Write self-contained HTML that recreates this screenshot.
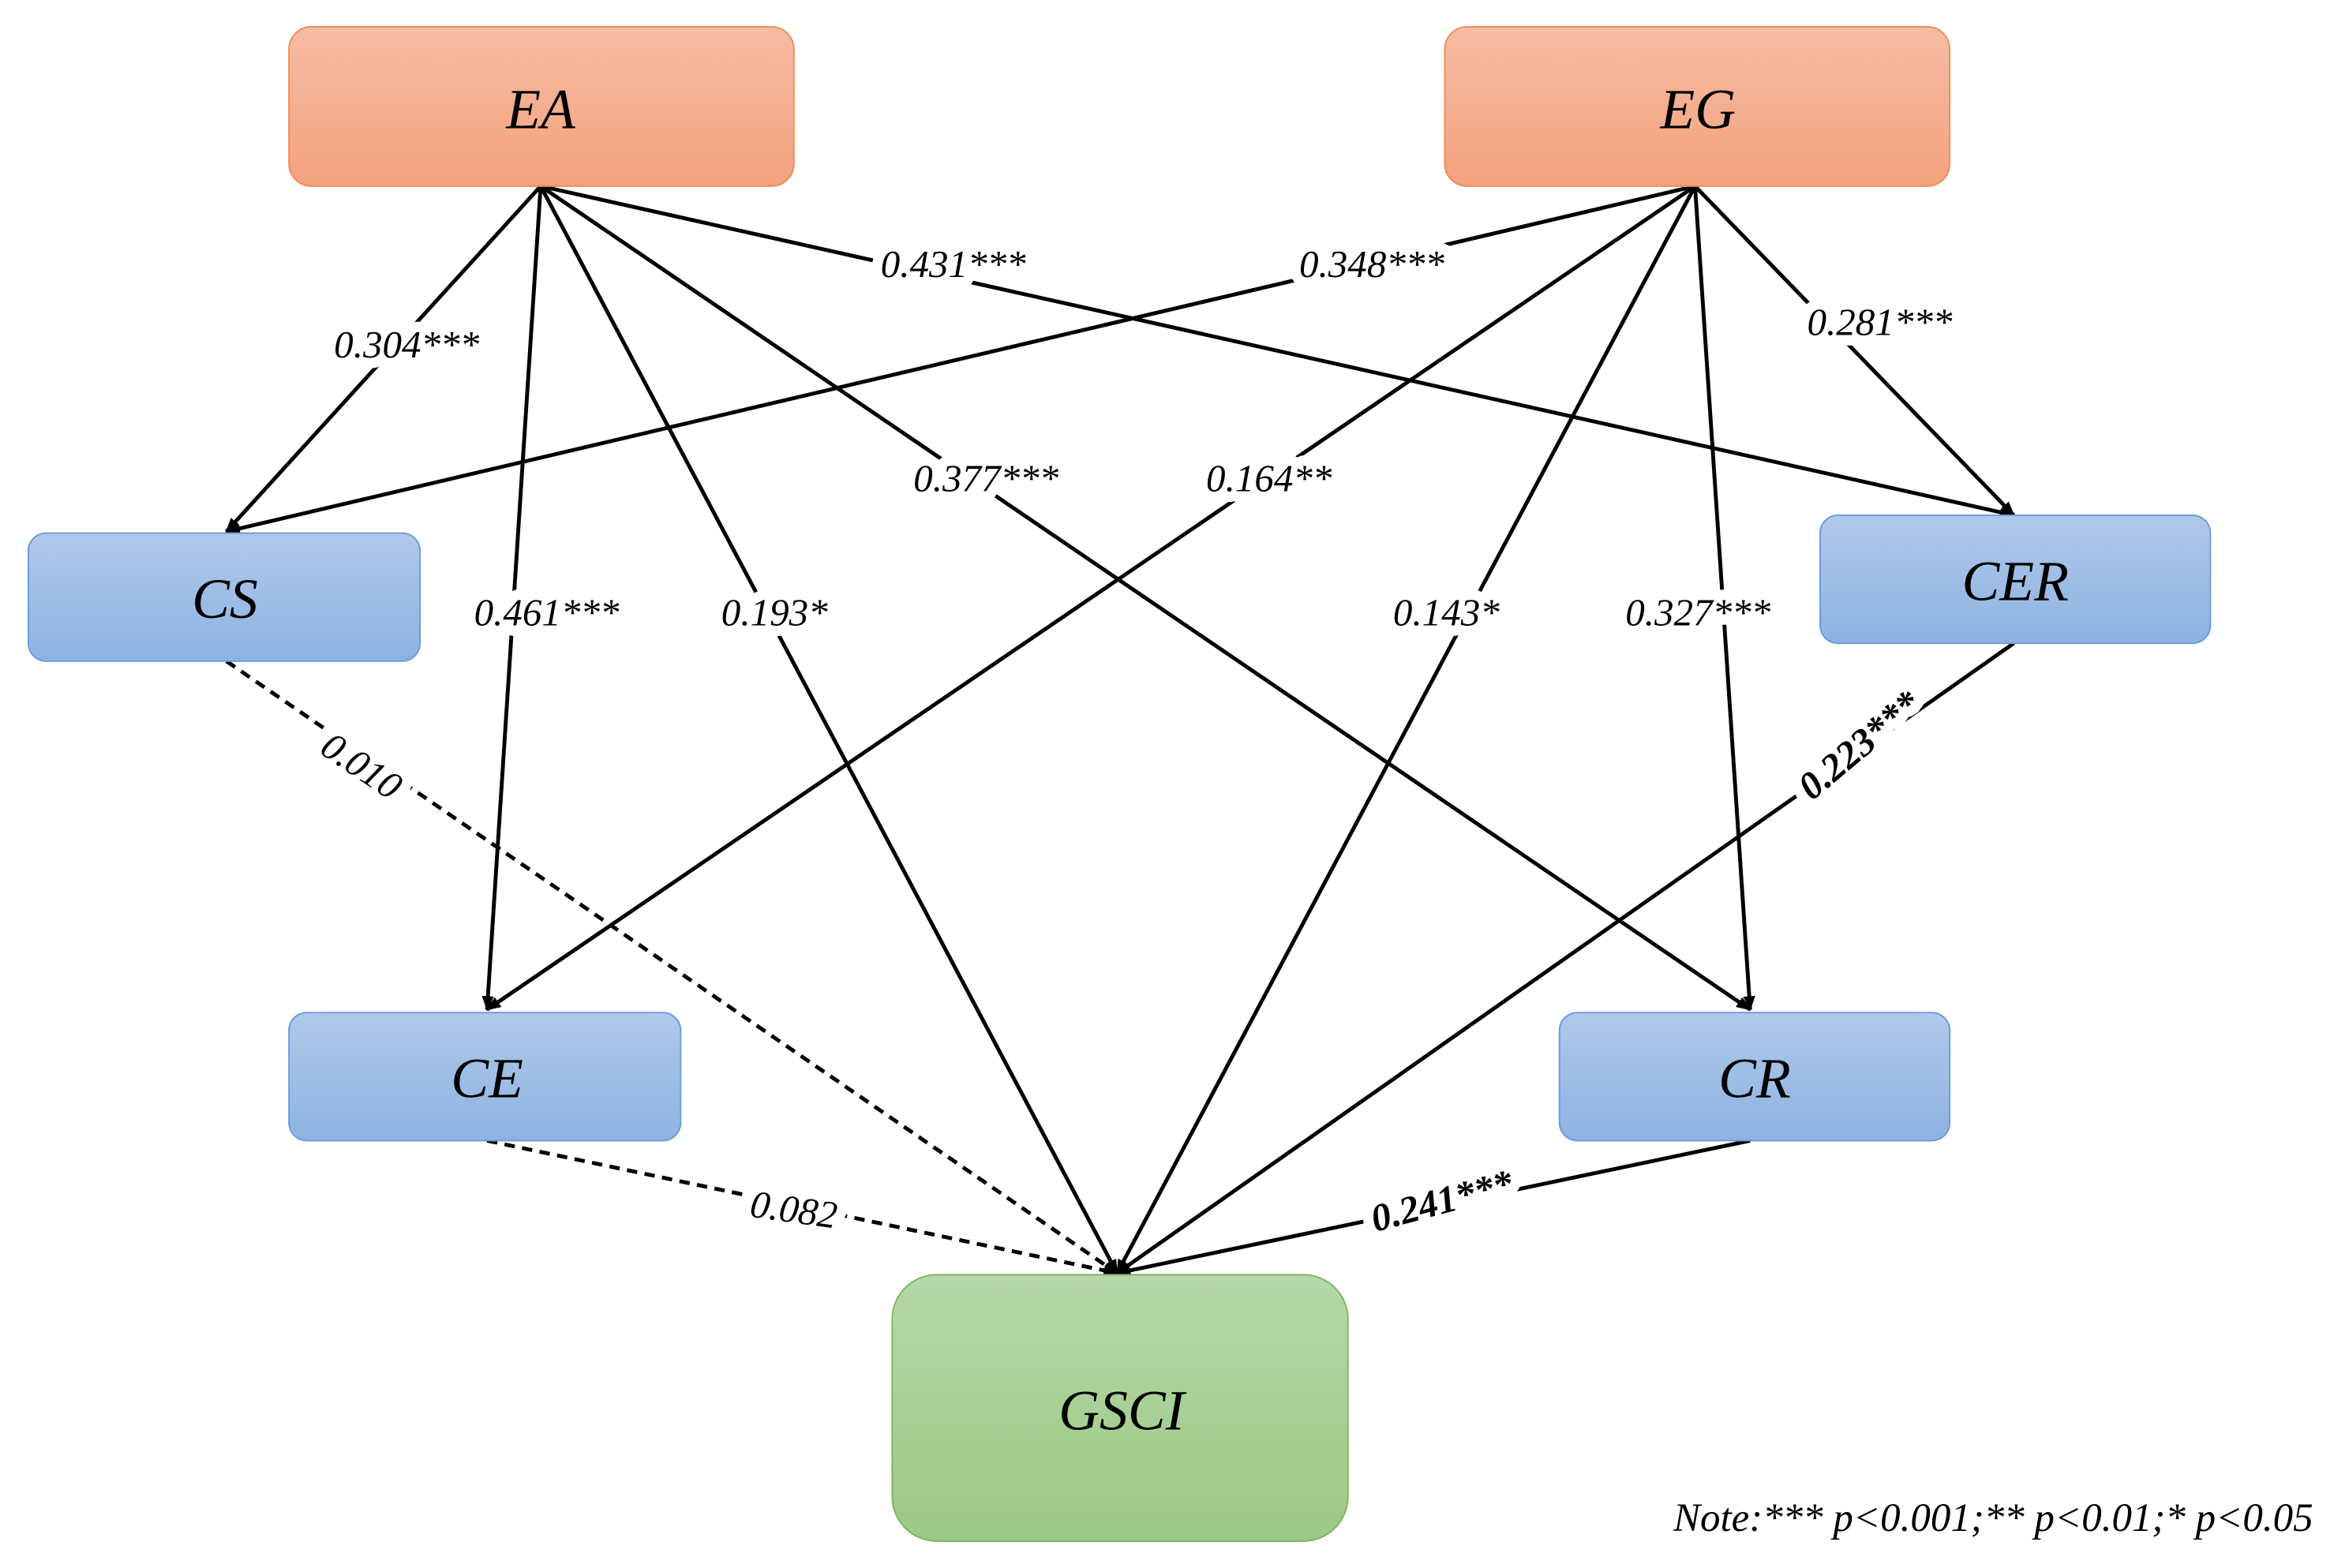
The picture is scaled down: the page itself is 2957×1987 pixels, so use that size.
<!DOCTYPE html>
<html><head><style>html,body{margin:0;padding:0;background:#fff}svg{display:block}</style></head><body>
<svg width="2957" height="1987" viewBox="0 0 1567 1053" preserveAspectRatio="none" xmlns="http://www.w3.org/2000/svg">
<defs>
<linearGradient id="o" x1="0" y1="0" x2="0" y2="1"><stop offset="0" stop-color="#f6bca4"/><stop offset="1" stop-color="#f3a27d"/></linearGradient>
<linearGradient id="b" x1="0" y1="0" x2="0" y2="1"><stop offset="0" stop-color="#afc9ea"/><stop offset="1" stop-color="#8db2e2"/></linearGradient>
<linearGradient id="g" x1="0" y1="0" x2="0" y2="1"><stop offset="0" stop-color="#b6d7a8"/><stop offset="1" stop-color="#9cc985"/></linearGradient>
<marker id="a" markerWidth="10" markerHeight="8" refX="9" refY="4" orient="auto" markerUnits="userSpaceOnUse"><path d="M0,0 L10,4 L0,8 z" fill="#000"/></marker>
</defs>
<g fill="none" stroke="#000" stroke-width="2.6" marker-end="url(#a)">
<line x1="363" y1="125" x2="152" y2="357"/>
<line x1="363" y1="125" x2="327" y2="678"/>
<line x1="363" y1="125" x2="750" y2="855"/>
<line x1="363" y1="125" x2="1175" y2="678"/>
<line x1="363" y1="125" x2="1352" y2="346"/>
<line x1="1138" y1="125" x2="152" y2="357"/>
<line x1="1138" y1="125" x2="327" y2="678"/>
<line x1="1138" y1="125" x2="750" y2="855"/>
<line x1="1138" y1="125" x2="1175" y2="678"/>
<line x1="1138" y1="125" x2="1352" y2="346"/>
<line x1="1352" y1="432" x2="750" y2="855"/>
<line x1="1175" y1="766" x2="750" y2="855"/>
<line x1="152" y1="444" x2="750" y2="855" stroke-dasharray="7,5"/>
<line x1="327" y1="766" x2="750" y2="855" stroke-dasharray="7,5"/>
</g>
<g stroke-width="1">
<rect x="194" y="18" width="339" height="107" rx="15" fill="url(#o)" stroke="#f08b5a"/>
<rect x="970" y="18" width="339" height="107" rx="15" fill="url(#o)" stroke="#f08b5a"/>
<rect x="19" y="358" width="263" height="86" rx="12" fill="url(#b)" stroke="#6b9bd8"/>
<rect x="1222" y="346" width="262" height="86" rx="12" fill="url(#b)" stroke="#6b9bd8"/>
<rect x="194" y="680" width="263" height="86" rx="12" fill="url(#b)" stroke="#6b9bd8"/>
<rect x="1047" y="680" width="262" height="86" rx="12" fill="url(#b)" stroke="#6b9bd8"/>
<rect x="599" y="856" width="306" height="179" rx="30" fill="url(#g)" stroke="#7fb55f"/>
</g>
<g font-family="Liberation Serif, serif" font-style="italic" font-size="38" text-anchor="middle" fill="#000">
<text x="363" y="86">EA</text>
<text x="1140" y="86">EG</text>
<text x="151" y="415">CS</text>
<text x="1353" y="403">CER</text>
<text x="327" y="737">CE</text>
<text x="1178" y="737">CR</text>
<text x="753" y="960">GSCI</text>
</g>
<g font-family="Liberation Serif, serif" font-style="italic" font-size="26" text-anchor="middle" fill="#000" stroke="#fff" stroke-width="14" paint-order="stroke" stroke-linejoin="round">
<text x="273" y="240">0.304***</text>
<text x="367" y="420">0.461***</text>
<text x="520" y="420">0.193*</text>
<text x="662" y="330">0.377***</text>
<text x="640" y="186">0.431***</text>
<text x="921" y="186">0.348***</text>
<text x="852" y="330">0.164**</text>
<text x="971" y="420">0.143*</text>
<text x="1140" y="420">0.327***</text>
<text x="1262" y="225">0.281***</text>
<text x="533" y="821" transform="rotate(8 533 812)">0.082</text>
<text x="243" y="523" transform="rotate(34 243 514)">0.010</text>
<text x="1248" y="509" transform="rotate(-40 1248 500)" font-weight="bold">0.223***</text>
<text x="968" y="815" transform="rotate(-15 968 806)" font-weight="bold">0.241***</text>
</g>
<text x="1553" y="1028" text-anchor="end" font-family="Liberation Serif, serif" font-style="italic" font-size="27" fill="#000">Note:*** p&lt;0.001;** p&lt;0.01;* p&lt;0.05</text>
</svg>
</body></html>
